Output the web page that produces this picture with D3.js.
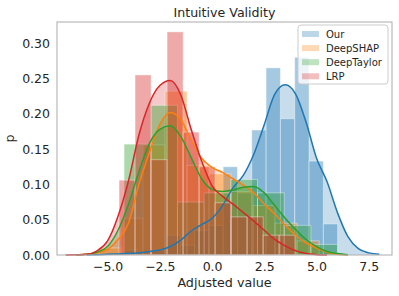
<!DOCTYPE html>
<html>
<head>
<meta charset="utf-8">
<script src="https://cdn.jsdelivr.net/npm/d3@7"></script>
<style>
  body { margin: 0; background: #fff; }
  svg { display: block; font-family: "DejaVu Sans", sans-serif; }
</style>
</head>
<body>
<div id="chart"></div>
<script>
const seriesNames = ['Our', 'DeepSHAP', 'DeepTaylor', 'LRP']
const seriesColors = ['#1f77b4', '#ff7f0e', '#2ca02c', '#d62728']

// histogram: first bin edge, bin width, density of each bin
const binStart = [-4.95, -5.41, -4.21, -4.45]
const binWidth = [0.685, 1.053, 1.277, 0.766]
const ourHist = [0, 0.007, 0, 0.007, 0.028, 0.014, 0.035, 0.042, 0.125, 0.088, 0.177, 0.265, 0.193, 0.28, 0.133, 0.044]
const shapHist = [0.01, 0.052, 0.156, 0.232, 0.127, 0.115, 0.09, 0.07, 0.045, 0.02]
const taylorHist = [0.157, 0.212, 0.075, 0.088, 0.107, 0.088, 0.042, 0.015]
const lrpHist = [0.106, 0.255, 0.135, 0.316, 0.174, 0.125, 0.074, 0.054, 0.054, 0.028, 0.028]

// kde curves read at these x values (null = curve not drawn there)
const kdeX = [-7, -6.5, -6, -5.5, -5, -4.5, -4, -3.5, -3, -2.5, -2, -1.5, -1, -0.5, 0, 0.5,
  1, 1.5, 2, 2.5, 3, 3.5, 4, 4.5, 5, 5.5, 6, 6.5, 7, 7.5, 8]
const ourKde = [null, null, 0, 0.0005, 0.001, 0.0015, 0.002, 0.003, 0.005, 0.007, 0.012, 0.021, 0.034, 0.043, 0.052, 0.07,
  0.095, 0.113, 0.143, 0.185, 0.228, 0.241, 0.228, 0.188, 0.137, 0.104, 0.06, 0.026, 0.009, 0.003, 0.001]
const shapKde = [null, 0, 0.001, 0.003, 0.008, 0.022, 0.045, 0.1, 0.145, 0.185, 0.202, 0.192, 0.163, 0.137, 0.124, 0.117,
  0.108, 0.099, 0.088, 0.072, 0.058, 0.042, 0.028, 0.017, 0.01, 0.004, 0.001, 0, null, null, null]
const taylorKde = [null, 0, 0.001, 0.004, 0.012, 0.035, 0.072, 0.118, 0.158, 0.178, 0.183, 0.168, 0.138, 0.108, 0.093, 0.09,
  0.092, 0.096, 0.097, 0.088, 0.07, 0.052, 0.036, 0.022, 0.012, 0.005, 0.002, 0.0005, null, null, null]
const lrpKde = [0, 0.0003, 0.001, 0.006, 0.02, 0.055, 0.105, 0.17, 0.215, 0.24, 0.247, 0.227, 0.178, 0.133, 0.098, 0.083,
  0.072, 0.06, 0.048, 0.035, 0.022, 0.013, 0.006, 0.002, 0.0005, 0, null, null, null, null, null]

const xTicks = [-5, -2.5, 0, 2.5, 5, 7.5]
const yTicks = [0, 0.05, 0.1, 0.15, 0.2, 0.25, 0.3]

const hists = [ourHist, shapHist, taylorHist, lrpHist]
const kdes = [ourKde, shapKde, taylorKde, lrpKde]

const width = 399
const height = 296
const margin = { top: 22, right: 7, bottom: 41, left: 57 }
const textColor = '#262626'

const svg = d3.select('#chart')
  .append('svg')
  .attr('width', width)
  .attr('height', height)

const x = d3.scaleLinear()
  .domain([-7.42, 8.61])
  .range([margin.left, width - margin.right])

const y = d3.scaleLinear()
  .domain([0, 0.33])
  .range([height - margin.bottom, margin.top])

const plot = svg.append('g').attr('class', 'plot')

const line = d3.line()
  .defined(d => d.p != null)
  .x(d => x(d.v))
  .y(d => y(d.p))
  .curve(d3.curveMonotoneX)

const area = d3.area()
  .defined(d => d.p != null)
  .x(d => x(d.v))
  .y0(y(0))
  .y1(d => y(d.p))
  .curve(d3.curveMonotoneX)

const kdePoints = kdes.map(k => k.map((p, j) => ({ v: kdeX[j], p })))

// shaded kde areas
plot.selectAll('path.shade')
  .data(kdePoints)
  .join('path')
  .attr('class', 'shade')
  .attr('d', area)
  .attr('fill', (d, i) => seriesColors[i])
  .attr('fill-opacity', 0.25)

// histograms
plot.selectAll('g.hist')
  .data(hists)
  .join('g')
  .attr('class', 'hist')
  .each(function (h, i) {
    const bins = h.map((p, k) => ({
      x0: binStart[i] + k * binWidth[i],
      x1: binStart[i] + (k + 1) * binWidth[i],
      p
    })).filter(b => b.p > 0)
    d3.select(this).selectAll('rect')
      .data(bins)
      .join('rect')
      .attr('x', b => x(b.x0))
      .attr('width', b => x(b.x1) - x(b.x0))
      .attr('y', b => y(b.p))
      .attr('height', b => y(0) - y(b.p))
      .attr('fill', seriesColors[i])
      .attr('fill-opacity', 0.4)
      .attr('stroke', '#fff')
      .attr('stroke-opacity', 0.4)
      .attr('stroke-width', 1)
  })

// kde lines
plot.selectAll('path.kde')
  .data(kdePoints)
  .join('path')
  .attr('class', 'kde')
  .attr('d', line)
  .attr('fill', 'none')
  .attr('stroke', (d, i) => seriesColors[i])
  .attr('stroke-width', 1.5)

// frame
svg.append('rect')
  .attr('x', margin.left)
  .attr('y', margin.top)
  .attr('width', width - margin.left - margin.right)
  .attr('height', height - margin.top - margin.bottom)
  .attr('fill', 'none')
  .attr('stroke', '#b3b3b3')
  .attr('stroke-width', 1.1)

// X axis
svg.append('g')
  .attr('class', 'x')
  .attr('transform', `translate(0,${height - margin.bottom})`)
  .call(d3.axisBottom(x).tickValues(xTicks).tickFormat(d3.format('.1f')).tickSize(0).tickPadding(7))
  .call(g => g.select('.domain').remove())
  .call(g => g.selectAll('text').attr('fill', textColor).style('font-size', '12.5px').style('font-family', '"DejaVu Sans"'))

// Y axis
svg.append('g')
  .attr('class', 'y')
  .attr('transform', `translate(${margin.left},0)`)
  .call(d3.axisLeft(y).tickValues(yTicks).tickFormat(d3.format('.2f')).tickSize(0).tickPadding(7))
  .call(g => g.select('.domain').remove())
  .call(g => g.selectAll('text').attr('fill', textColor).style('font-size', '12.5px').style('font-family', '"DejaVu Sans"'))

// labels
svg.append('text')
  .attr('x', (margin.left + width - margin.right) / 2)
  .attr('y', 16.5)
  .attr('text-anchor', 'middle')
  .attr('fill', textColor)
  .style('font-size', '12.6px')
  .text('Intuitive Validity')

svg.append('text')
  .attr('x', (margin.left + width - margin.right) / 2)
  .attr('y', 286.5)
  .attr('text-anchor', 'middle')
  .attr('fill', textColor)
  .style('font-size', '12.7px')
  .text('Adjusted value')

svg.append('text')
  .attr('transform', `translate(13.5,${(margin.top + height - margin.bottom) / 2}) rotate(-90)`)
  .attr('text-anchor', 'middle')
  .attr('fill', textColor)
  .style('font-size', '12.7px')
  .text('p')

// legend
const legend = svg.append('g').attr('class', 'legend')
legend.append('rect')
  .attr('x', 298)
  .attr('y', 25)
  .attr('width', 90)
  .attr('height', 59)
  .attr('rx', 3)
  .attr('fill', '#fff')
  .attr('fill-opacity', 0.8)
  .attr('stroke', '#cccccc')
  .attr('stroke-width', 1)

const item = legend.selectAll('g.item')
  .data(seriesNames)
  .join('g')
  .attr('class', 'item')
  .attr('transform', (d, i) => `translate(302,${34 + i * 14.1})`)

item.append('rect')
  .attr('x', 0)
  .attr('y', -3)
  .attr('width', 17)
  .attr('height', 6)
  .attr('fill', (d, i) => seriesColors[i])
  .attr('fill-opacity', 0.3)

item.append('text')
  .attr('x', 24)
  .attr('dy', '0.35em')
  .attr('fill', textColor)
  .style('font-size', '10px')
  .text(d => d)
</script>
</body>
</html>
